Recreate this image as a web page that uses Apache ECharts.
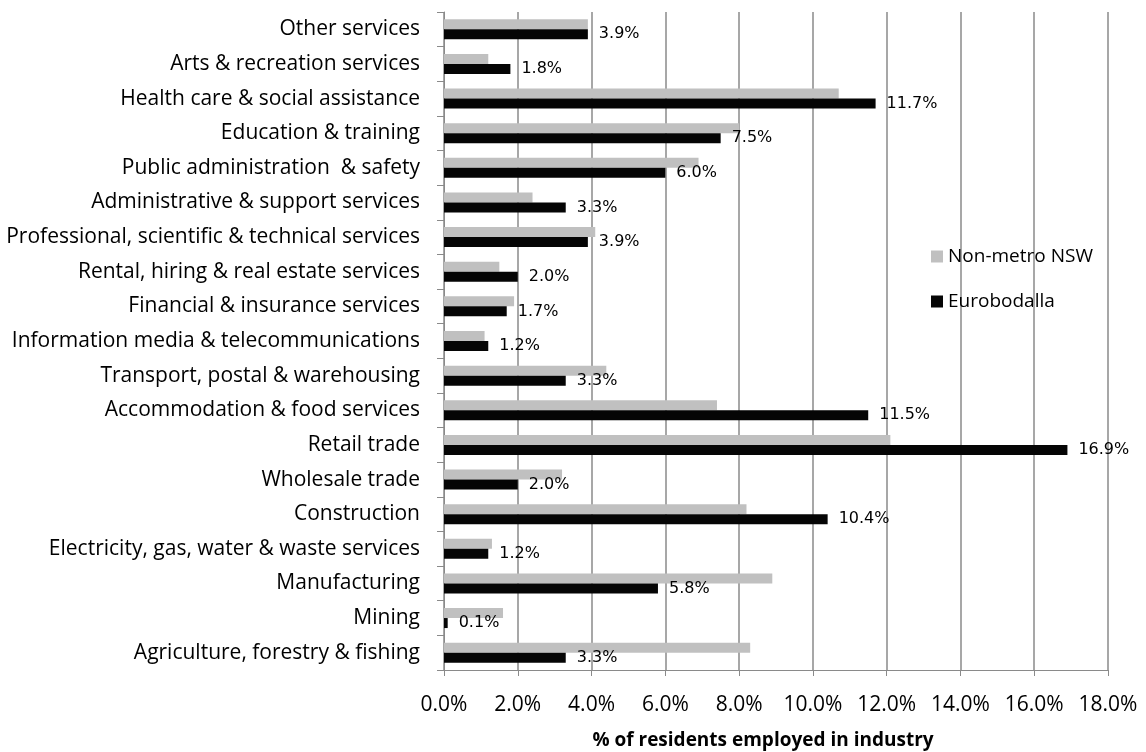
<!DOCTYPE html>
<html>
<head>
<meta charset="utf-8">
<script src="https://cdn.jsdelivr.net/npm/echarts@6/dist/echarts.min.js"></script>
<style>
  html, body { margin: 0; padding: 0; background: #fff; }
  #chart { width: 1146px; height: 752px; }
</style>
</head>
<body>
<div id="chart"></div>
<script>
// Industries, listed from the top row of the chart downwards
const industries = [
  'Other services',
  'Arts & recreation services',
  'Health care & social assistance',
  'Education & training',
  'Public administration  & safety',
  'Administrative & support services',
  'Professional, scientific & technical services',
  'Rental, hiring & real estate services',
  'Financial & insurance services',
  'Information media & telecommunications',
  'Transport, postal & warehousing',
  'Accommodation & food services',
  'Retail trade',
  'Wholesale trade',
  'Construction',
  'Electricity, gas, water & waste services',
  'Manufacturing',
  'Mining',
  'Agriculture, forestry & fishing'
];

// Share of employed residents (%) by industry
const nonMetroNSW = [3.9, 1.2, 10.7, 8.0, 6.9, 2.4, 4.1, 1.5, 1.9, 1.1, 4.4, 7.4, 12.1, 3.2, 8.2, 1.3, 8.9, 1.6, 8.3];
const eurobodalla = [3.9, 1.8, 11.7, 7.5, 6.0, 3.3, 3.9, 2.0, 1.7, 1.2, 3.3, 11.5, 16.9, 2.0, 10.4, 1.2, 5.8, 0.1, 3.3];

const seriesNames = ['Non-metro NSW', 'Eurobodalla'];
const axisTitle = '% of residents employed in industry';

const pct = v => Number(v).toFixed(1) + '%';
const uiFont = 'Open Sans';
const lineGrey = '#8a8a8a';

const chart = echarts.init(document.getElementById('chart'), null, { renderer: 'canvas' });

chart.setOption({
  animation: false,
  backgroundColor: '#ffffff',
  grid: { left: 444, right: 38, top: 12, bottom: 82, containLabel: false, outerBoundsMode: 'none' },
  legend: {
    data: seriesNames,
    orient: 'vertical',
    left: 926,
    top: 242,
    itemWidth: 12,
    itemHeight: 12,
    itemGap: 26,
    icon: 'rect',
    textStyle: { fontFamily: uiFont, fontSize: 19, color: '#000' }
  },
  xAxis: {
    type: 'value',
    min: 0,
    max: 18,
    interval: 2,
    axisLine: { show: true, lineStyle: { color: lineGrey, width: 1 } },
    axisTick: { show: true, length: 6, lineStyle: { color: lineGrey } },
    splitLine: { show: true, lineStyle: { color: lineGrey, width: 1.5 } },
    axisLabel: { formatter: pct, margin: 25, fontFamily: uiFont, fontSize: 21, color: '#000' },
    name: axisTitle,
    nameLocation: 'middle',
    nameGap: 61,
    nameTextStyle: { fontFamily: uiFont, fontSize: 19, fontWeight: 'bold', color: '#000', padding: [0, 26, 0, 0] }
  },
  yAxis: {
    type: 'category',
    data: industries,
    inverse: true,
    axisLine: { show: true, lineStyle: { color: lineGrey, width: 1 } },
    axisTick: { show: true, length: 7, lineStyle: { color: lineGrey } },
    axisLabel: { margin: 24, fontFamily: uiFont, fontSize: 21, color: '#000' }
  },
  series: [
    {
      name: seriesNames[0],
      type: 'bar',
      data: nonMetroNSW,
      barWidth: 10,
      barGap: '0%',
      itemStyle: { color: '#c0c0c0' }
    },
    {
      name: seriesNames[1],
      type: 'bar',
      data: eurobodalla,
      barWidth: 10,
      barGap: '0%',
      itemStyle: { color: '#050505' },
      label: {
        show: true,
        position: 'right',
        distance: 11,
        formatter: p => pct(p.value),
        fontFamily: 'DejaVu Sans',
        fontSize: 16,
        color: '#000'
      }
    }
  ]
});
</script>
</body>
</html>
